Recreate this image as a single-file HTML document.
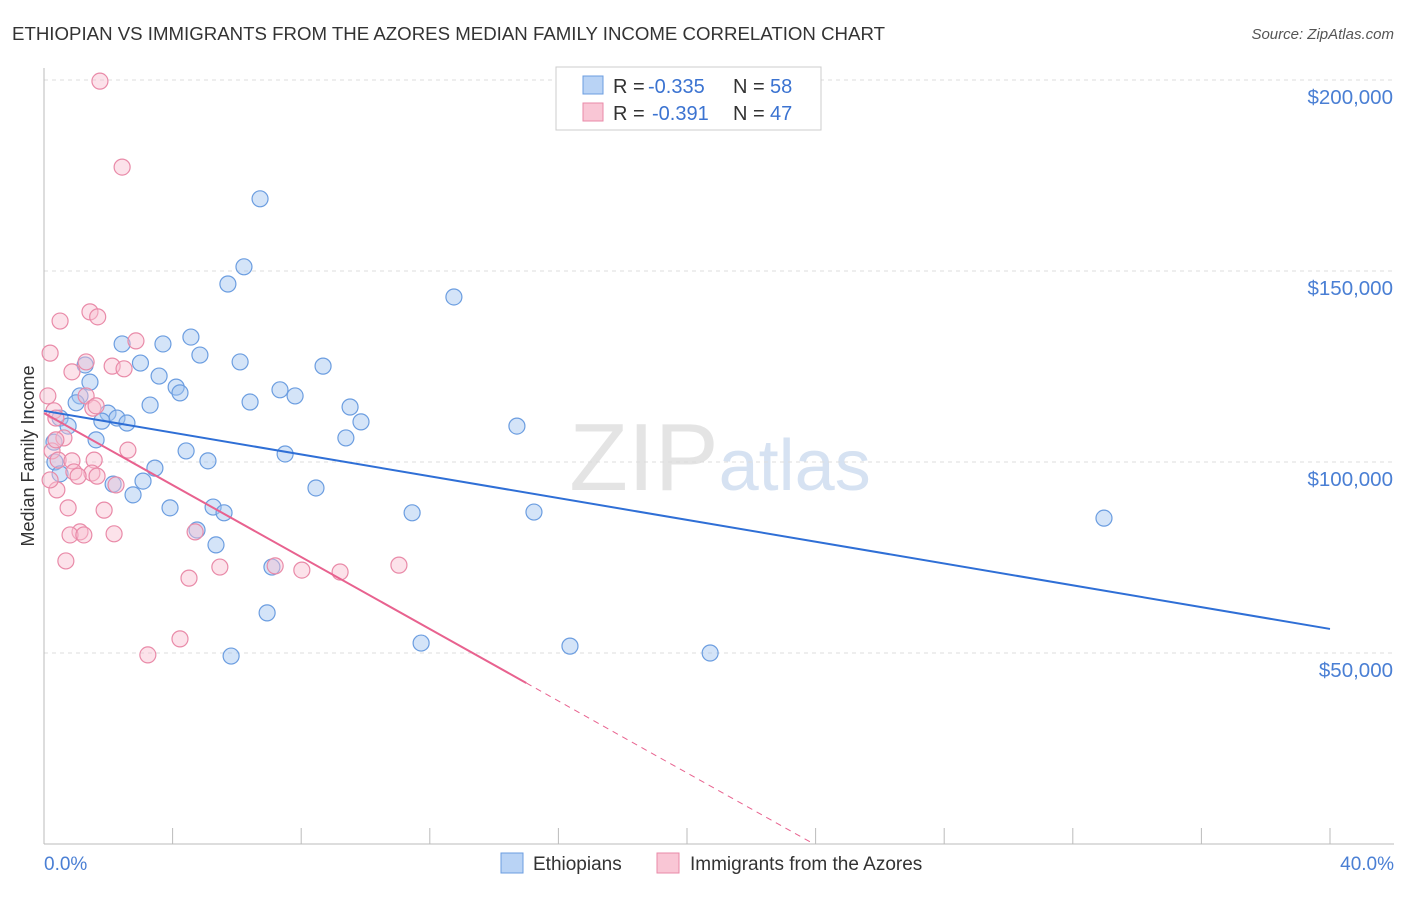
<!DOCTYPE html>
<html><head><meta charset="utf-8"><style>
body{margin:0;background:#fff;font-family:"Liberation Sans",sans-serif;}
svg text{font-family:"Liberation Sans",sans-serif;}
</style></head><body>
<svg id="chart" width="1406" height="892" xmlns="http://www.w3.org/2000/svg">
<text x="12" y="40" font-size="18" fill="#333" textLength="873" lengthAdjust="spacingAndGlyphs">ETHIOPIAN VS IMMIGRANTS FROM THE AZORES MEDIAN FAMILY INCOME CORRELATION CHART</text>
<text x="1394" y="39" font-size="15" fill="#555" text-anchor="end" font-style="italic">Source: ZipAtlas.com</text>
<text x="720" y="490" font-size="96" text-anchor="middle" fill="#e4e4e4" font-family="Liberation Serif"><tspan>ZIP</tspan><tspan fill="#d6e2f2" font-family="Liberation Sans" font-size="72">atlas</tspan></text>
<g id="grid"></g><g id="axes"></g><g id="pts"></g><g id="lines"></g>
<text transform="translate(34,456) rotate(-90)" font-size="18" fill="#333" text-anchor="middle">Median Family Income</text>
<text x="44" y="870" font-size="19" fill="#4a7fd4">0.0%</text>
<text x="1394" y="870" font-size="19" fill="#4a7fd4" text-anchor="end">40.0%</text>
<g>
<rect x="556" y="67" width="265" height="63" fill="#fff" stroke="#ccc"/>
<rect x="583" y="76" width="20" height="18" fill="#b9d3f5" stroke="#6b9de0"/>
<rect x="583" y="103" width="20" height="18" fill="#f9c6d5" stroke="#e98aa8"/>
<text x="613" y="93" font-size="20" fill="#333">R =</text>
<text x="648" y="93" font-size="20" fill="#3b73d1">-0.335</text>
<text x="733" y="93" font-size="20" fill="#333">N =</text>
<text x="770" y="93" font-size="20" fill="#3b73d1">58</text>
<text x="613" y="120" font-size="20" fill="#333">R =</text>
<text x="652" y="120" font-size="20" fill="#3b73d1">-0.391</text>
<text x="733" y="120" font-size="20" fill="#333">N =</text>
<text x="770" y="120" font-size="20" fill="#3b73d1">47</text>
</g>
<g>
<rect x="501" y="853" width="22" height="20" fill="#b9d3f5" stroke="#6b9de0"/>
<text x="533" y="870" font-size="19" fill="#333">Ethiopians</text>
<rect x="657" y="853" width="22" height="20" fill="#f9c6d5" stroke="#e98aa8"/>
<text x="690" y="870" font-size="19" fill="#333">Immigrants from the Azores</text>
</g>
</svg>
<script>
const yTicks=[50,100,150,200];
const yTickLabels=["$50,000","$100,000","$150,000","$200,000"];
const xTicks=[0,4,8,12,16,20,24,28,32,36,40];
const blueX=[6.72,6.22,5.72,12.75,4.57,3.70,2.43,4.85,6.10,3.00,8.68,1.28,3.58,1.43,4.11,7.34,4.23,7.81,1.12,6.41,1.00,3.30,9.52,1.99,2.27,0.50,1.80,2.58,9.86,0.75,14.71,9.39,1.62,0.31,4.42,7.50,5.10,0.34,3.45,0.50,3.08,2.15,8.46,2.77,5.26,3.92,5.60,11.45,15.24,32.97,4.76,5.35,7.09,6.94,11.73,16.36,20.72,5.82];
const blueY=[168.9,151.1,146.6,143.2,132.7,130.9,130.9,128.0,126.2,125.9,125.1,125.4,122.5,120.9,119.6,118.9,118.1,117.3,117.3,115.7,115.5,114.9,114.4,112.8,111.5,111.5,110.7,110.2,110.5,109.4,109.4,106.3,105.8,105.2,102.9,102.1,100.3,100.0,98.4,96.9,95.0,94.2,93.2,91.4,88.2,88.0,86.7,86.7,86.9,85.3,82.2,78.3,72.5,60.5,52.6,51.8,50.0,49.2];
const pinkX=[1.74,2.43,1.43,1.67,0.50,2.86,0.19,1.31,2.12,2.49,0.87,0.12,1.31,1.52,0.31,0.37,0.62,0.25,2.61,0.44,0.87,1.56,0.93,1.49,1.65,1.06,2.24,0.40,0.75,1.87,1.12,4.70,0.81,1.24,2.18,0.68,5.47,7.19,11.04,8.02,9.21,4.51,4.23,3.23,0.37,1.62,0.19];
const pinkY=[199.7,177.2,139.3,138.0,136.9,131.7,128.5,126.2,125.1,124.4,123.6,117.3,117.3,114.1,113.4,111.5,106.3,102.9,103.1,100.5,100.3,100.5,97.4,97.1,96.3,96.3,94.0,92.7,88.0,87.4,81.7,81.7,80.9,80.9,81.2,74.1,72.5,72.8,73.0,71.7,71.2,69.6,53.7,49.5,105.8,114.7,95.3];
const blueTrend=[113.4,56.3]; // y at x=0 and x=40
const pinkTrend=[112.8,-4.71]; // intercept, slope per %
const sx=v=>44+v*32.15, sy=v=>844-v*3.82;
const NS="http://www.w3.org/2000/svg";
function mk(t,a,p){const e=document.createElementNS(NS,t);for(const k in a)e.setAttribute(k,a[k]);p.appendChild(e);return e;}
const grid=document.getElementById('grid'),axes=document.getElementById('axes'),pts=document.getElementById('pts'),lines=document.getElementById('lines');
yTicks.forEach((v,i)=>{
 const l=mk('line',{x1:44,x2:1394,y1:sy(v),y2:sy(v),stroke:'#ddd','stroke-dasharray':'4,4'},grid);
 
 
 const t=mk('text',{x:1393,y:sy(v)+24,'font-size':20.5,fill:'#4a7fd4','text-anchor':'end'},axes);
 t.textContent=yTickLabels[i];
 
 
});
const ax=mk('line',{x1:44,x2:1394,y1:844,y2:844,stroke:'#bbb'},axes);


const ay=mk('line',{x1:44,x2:44,y1:68,y2:844,stroke:'#bbb'},axes);


xTicks.forEach(v=>{const t=mk('line',{x1:sx(v),x2:sx(v),y1:828,y2:844,stroke:'#bbb'},axes);
 
 });
blueX.forEach((x,i)=>{const c=mk('circle',{cx:sx(x),cy:sy(blueY[i]),r:8,fill:'rgba(160,196,240,0.45)',stroke:'#6b9de0','stroke-width':1.2},pts);
 
 });
pinkX.forEach((x,i)=>{const c=mk('circle',{cx:sx(x),cy:sy(pinkY[i]),r:8,fill:'rgba(248,190,208,0.45)',stroke:'#e98aa8','stroke-width':1.2},pts);
 
 });
const bl=mk('line',{x1:sx(0),y1:sy(blueTrend[0]),x2:sx(40),y2:sy(blueTrend[1]),stroke:'#2f6fd6','stroke-width':2},lines);


const pf=x=>pinkTrend[0]+pinkTrend[1]*x;
const xe=-pinkTrend[0]/pinkTrend[1];
const pl=mk('line',{x1:sx(0),y1:sy(pf(0)),x2:sx(15),y2:sy(pf(15)),stroke:'#e8628f','stroke-width':2},lines);


const pd=mk('line',{x1:sx(15),y1:sy(pf(15)),x2:sx(xe),y2:sy(0),stroke:'#e8628f','stroke-width':1,'stroke-dasharray':'6,5'},lines);


</script>
</body></html>
